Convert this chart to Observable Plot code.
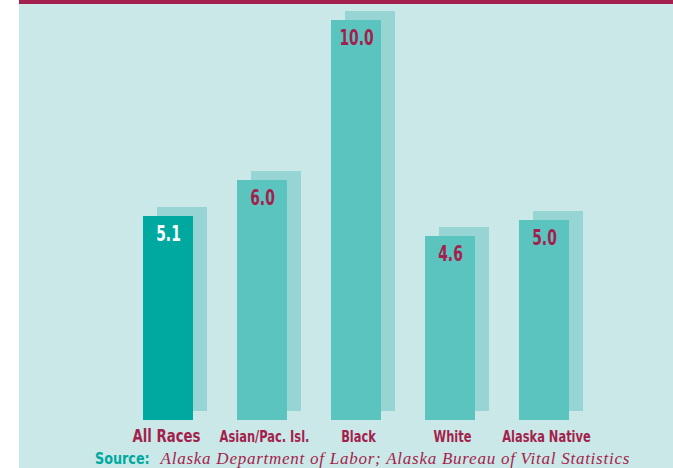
<!DOCTYPE html>
<html>
<head>
<meta charset="utf-8">
<script src="https://cdn.jsdelivr.net/npm/d3@7"></script>
<script src="https://cdn.jsdelivr.net/npm/@observablehq/plot@0.6"></script>
<style>
  html, body { margin: 0; padding: 0; background: #ffffff; }
  #panel {
    position: absolute; left: 19px; top: 0; width: 654px; height: 468px;
    background: #cae8e7; border-top: 4px solid #a31f4d; box-sizing: border-box;
    overflow: hidden;
  }
  #chart svg { display: block; }
  #source {
    position: absolute; left: 76px; top: 445px; white-space: nowrap;
    font-size: 16px; line-height: 20px;
  }
  #source .lab { display: inline-block; transform: scaleX(0.86); transform-origin: left center;
    font-family: "DejaVu Sans Condensed", sans-serif; font-weight: bold; color: #00a9a0; font-size: 16.5px; }
  #source .txt { font-family: "Liberation Serif", "DejaVu Serif", serif; font-style: italic; color: #a31f4d;
    font-size: 17px; letter-spacing: 0.75px; margin-left: 2px; }
</style>
</head>
<body>
<div id="panel">
  <div id="chart"></div>
  <div id="source"><span class="lab">Source:</span><span class="txt">Alaska Department of Labor; Alaska Bureau of Vital Statistics</span></div>
</div>
<script>
const categories = ["All Races", "Asian/Pac. Isl.", "Black", "White", "Alaska Native"];
const values = [5.1, 6.0, 10.0, 4.6, 5.0];
const valueLabels = ["5.1", "6.0", "10.0", "4.6", "5.0"];

const data = categories.map((c, i) => ({cat: c, value: values[i], label: valueLabels[i]}));
const maroon = "#a31f4d";
const narrow = "'DejaVu Sans Condensed', sans-serif";

const chart = Plot.plot({
  width: 654,
  height: 445,
  marginLeft: 79,
  marginRight: 60,
  marginTop: 16,
  marginBottom: 29,
  x: {type: "band", domain: categories, padding: 0.469, axis: null},
  y: {domain: [0, 10], axis: null},
  color: {type: "identity"},
  style: {background: "transparent", overflow: "visible", fontFamily: narrow},
  marks: [
    Plot.barY(data, {x: "cat", y: "value", fill: "#96d5d3", dx: 14, dy: -9}),
    Plot.barY(data, {x: "cat", y: "value", fill: d => d.cat === "All Races" ? "#00a9a0" : "#5cc4bf"}),
    Plot.text(data, {x: "cat", y: "value", text: "label", dy: 17, fontSize: 22, fontWeight: "bold",
      fill: d => d.cat === "All Races" ? "#ffffff" : maroon}),
    Plot.text(data.filter(d => d.cat === "All Races"), {x: "cat", text: "cat", frameAnchor: "bottom", dy: 21, dx: -2,
      fontSize: 18, fontWeight: "bold", fill: maroon}),
    Plot.text(data.filter(d => d.cat !== "All Races"), {x: "cat", text: "cat", frameAnchor: "bottom", dy: 21, dx: 2,
      fontSize: 15.5, fontWeight: "bold", fill: maroon})
  ]
});
document.getElementById("chart").appendChild(chart);

// condense the type horizontally, as in the original's condensed bold face
d3.select(chart).selectAll("text").each(function() {
  const t = this.textContent;
  const f = valueLabels.includes(t) ? 0.7 : 0.82;
  const w = this.getComputedTextLength();
  this.setAttribute("textLength", (w * f).toFixed(1));
  this.setAttribute("lengthAdjust", "spacingAndGlyphs");
});
</script>
</body>
</html>
